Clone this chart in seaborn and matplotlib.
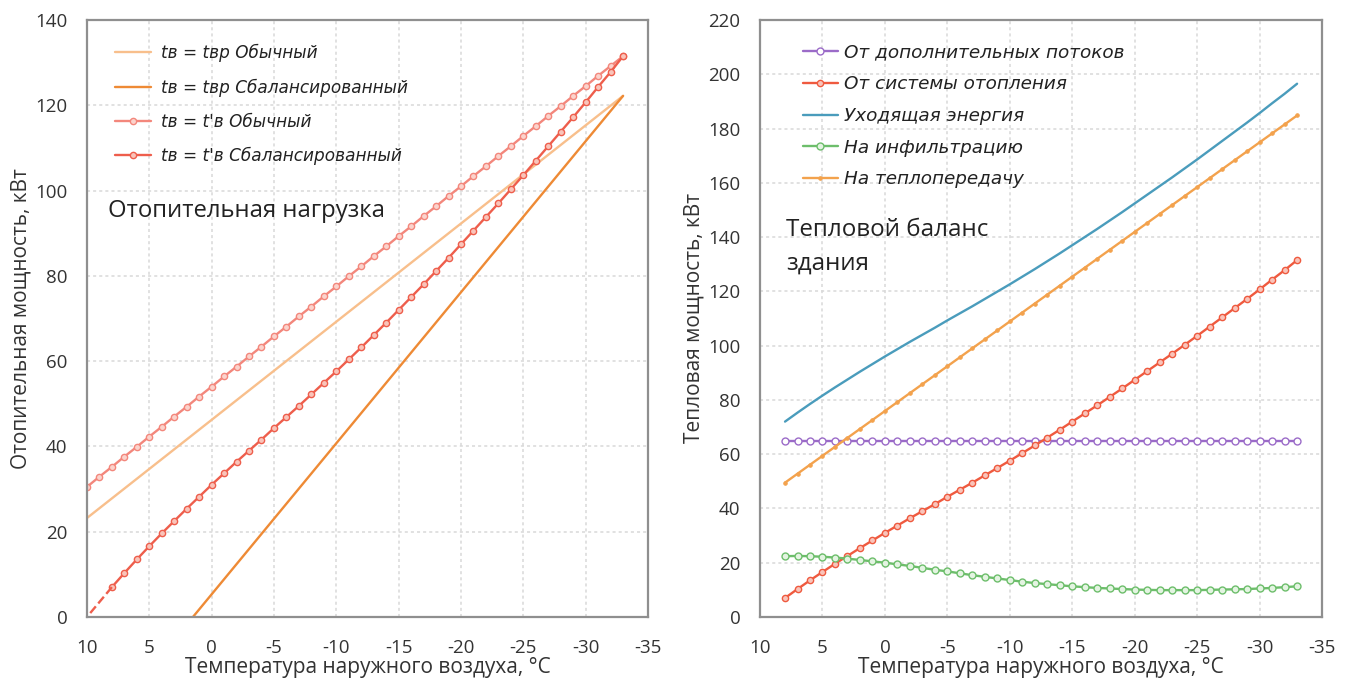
import matplotlib
matplotlib.use("Agg")
import matplotlib.pyplot as plt
import seaborn as sns
from matplotlib.ticker import MultipleLocator

# outdoor temperature, deg C
temps_left = list(range(10, -34, -1))   # 10 .. -33
temps = list(range(8, -34, -1))         # 8 .. -33

# left chart: heating load, kW
calc_usual_t = [10, -33]
calc_usual = [23.2, 122.2]
calc_bal_t = [1.5, -33]
calc_bal = [0.0, 122.2]
real_usual = [30.5, 32.9, 35.2, 37.6, 39.9, 42.3, 44.6, 47.0, 49.3, 51.7, 54.0,
              56.4, 58.7, 61.1, 63.4, 65.8, 68.1, 70.5, 72.8, 75.2, 77.5, 79.9,
              82.2, 84.6, 86.9, 89.3, 91.6, 94.0, 96.3, 98.7, 101.0, 103.4, 105.7,
              108.1, 110.4, 112.8, 115.1, 117.5, 119.8, 122.2, 124.5, 126.9, 129.2, 131.5]
heat_bal = [7.0, 10.3, 13.5, 16.6, 19.6, 22.5, 25.4, 28.2, 31.0, 33.7, 36.4,
            39.0, 41.6, 44.3, 46.9, 49.5, 52.2, 54.9, 57.6, 60.4, 63.2, 66.1,
            69.0, 72.0, 75.0, 78.0, 81.1, 84.2, 87.4, 90.6, 93.8, 97.0, 100.3,
            103.6, 107.0, 110.4, 113.8, 117.2, 120.7, 124.3, 127.8, 131.5]
ext_t = [10, 8]
ext_heat = [0.0, 7.0]

# right chart: building heat balance, kW
extra_gains = [65.0] * 42
leaving = [72.0, 75.3, 78.5, 81.6, 84.6, 87.5, 90.4, 93.2, 96.0, 98.7, 101.4,
           104.0, 106.6, 109.3, 111.9, 114.5, 117.2, 119.9, 122.6, 125.4, 128.2, 131.1,
           134.0, 137.0, 140.0, 143.0, 146.1, 149.2, 152.4, 155.6, 158.8, 162.0, 165.3,
           168.6, 172.0, 175.4, 178.8, 182.2, 185.7, 189.3, 192.8, 196.5]
infiltr = [22.4, 22.5, 22.4, 22.2, 21.9, 21.5, 21.0, 20.5, 20.0, 19.4, 18.8,
           18.1, 17.4, 16.8, 16.1, 15.4, 14.8, 14.2, 13.6, 13.0, 12.5, 12.1,
           11.7, 11.3, 11.0, 10.7, 10.5, 10.3, 10.1, 10.0, 9.9, 9.9, 9.9,
           9.9, 10.0, 10.1, 10.2, 10.3, 10.5, 10.7, 11.0, 11.3]
transm = [49.5, 52.8, 56.1, 59.4, 62.7, 66.0, 69.3, 72.6, 75.9, 79.2, 82.5,
          85.8, 89.1, 92.4, 95.7, 99.0, 102.3, 105.6, 108.9, 112.2, 115.5, 118.8,
          122.1, 125.4, 128.7, 132.0, 135.3, 138.6, 141.9, 145.2, 148.5, 151.8, 155.1,
          158.4, 161.7, 165.0, 168.3, 171.6, 174.9, 178.2, 181.5, 184.8]

labels_left = ["tв = tвр Обычный", "tв = tвр Сбалансированный",
               "tв = t'в Обычный", "tв = t'в Сбалансированный"]
labels_right = ["От дополнительных потоков", "От системы отопления",
                "Уходящая энергия", "На инфильтрацию", "На теплопередачу"]

sns.set_style("white")
plt.rcParams['font.family'] = ['Open Sans', 'DejaVu Sans']
plt.rcParams['axes.unicode_minus'] = False

fig = plt.figure(figsize=(13.5, 6.86), dpi=100)
ax1 = fig.add_axes([0.0644, 0.1006, 0.4156, 0.8703])
ax2 = fig.add_axes([0.563, 0.1006, 0.4163, 0.8703])

lw = 1.7
sns.lineplot(x=calc_usual_t, y=calc_usual, ax=ax1, color='#F8BF8C', lw=lw, label=labels_left[0])
sns.lineplot(x=calc_bal_t, y=calc_bal, ax=ax1, color='#EE8A35', lw=lw, label=labels_left[1])
sns.lineplot(x=temps_left, y=real_usual, ax=ax1, color='#F3877C', lw=lw, marker='o',
             markersize=4.5, markerfacecolor='#FBD3CC', markeredgecolor='#F3877C',
             markeredgewidth=1, label=labels_left[2])
sns.lineplot(x=temps, y=heat_bal, ax=ax1, color='#EE5E4C', lw=lw, marker='o',
             markersize=4.5, markerfacecolor='#F9C4BA', markeredgecolor='#EE5E4C',
             markeredgewidth=1, label=labels_left[3])
sns.lineplot(x=ext_t, y=ext_heat, ax=ax1, color='#EE5E4C', lw=lw, linestyle='--')

sns.lineplot(x=temps, y=extra_gains, ax=ax2, color='#9B6BC8', lw=lw, marker='o',
             markersize=5, markerfacecolor='white', markeredgecolor='#9B6BC8',
             markeredgewidth=1, label=labels_right[0])
sns.lineplot(x=temps, y=heat_bal, ax=ax2, color='#EF5A3F', lw=lw, marker='o',
             markersize=4.5, markerfacecolor='#F9C4BA', markeredgecolor='#EF5A3F',
             markeredgewidth=1, label=labels_right[1])
sns.lineplot(x=temps, y=leaving, ax=ax2, color='#4A9CBC', lw=lw, label=labels_right[2])
sns.lineplot(x=temps, y=infiltr, ax=ax2, color='#6DBE6B', lw=lw, marker='o',
             markersize=5, markerfacecolor='#E4F4E2', markeredgecolor='#6DBE6B',
             markeredgewidth=1, label=labels_right[3])
sns.lineplot(x=temps, y=transm, ax=ax2, color='#F3A24D', lw=lw, marker='o',
             markersize=2.5, markerfacecolor='#F3A24D', markeredgecolor='#F3A24D',
             label=labels_right[4])

for ax, ymax in [(ax1, 140), (ax2, 220)]:
    ax.set_xlim(10, -35)
    ax.set_ylim(0, ymax)
    ax.xaxis.set_major_locator(MultipleLocator(5))
    ax.xaxis.set_minor_locator(MultipleLocator(1))
    ax.yaxis.set_major_locator(MultipleLocator(20))
    ax.yaxis.set_minor_locator(MultipleLocator(5))
    ax.grid(True, which='major', color='#d9d9d9', linestyle=(0, (2, 2)), lw=1.1)
    for s in ax.spines.values():
        s.set_color('#8f8f8f')
        s.set_linewidth(1.6)
    ax.tick_params(which='both', direction='in', colors='#8f8f8f', labelcolor='#333333',
                   labelsize=13.5)
    ax.tick_params(axis='x', pad=16)
    ax.tick_params(axis='y', pad=14)
    ax.tick_params(which='major', length=5, width=1.2)
    ax.tick_params(which='minor', length=3, width=1)
    ax.set_xlabel('Температура наружного воздуха, °C', fontsize=15, color='#333333', labelpad=0)

ax1.set_ylabel('Отопительная мощность, кВт', fontsize=15, color='#333333', labelpad=3)
ax2.set_ylabel('Тепловая мощность, кВт', fontsize=15, color='#333333', labelpad=3)

ax1.legend(loc='upper left', bbox_to_anchor=(0.05, 0.96), frameon=False,
           prop={'family': 'DejaVu Sans', 'style': 'italic', 'size': 12.2},
           labelcolor='#222222', borderpad=0, borderaxespad=0, handlelength=2.1,
           handletextpad=0.6, labelspacing=0.96)
ax2.legend(loc='upper left', bbox_to_anchor=(0.0765, 0.96), frameon=False,
           prop={'family': 'DejaVu Sans', 'style': 'italic', 'size': 13.2},
           labelcolor='#222222', borderpad=0, borderaxespad=0, handlelength=1.9,
           handletextpad=0.35, labelspacing=0.74)

ax1.text(0.037, 0.68, 'Отопительная нагрузка', transform=ax1.transAxes,
         fontsize=17.2, color='#222222', va='center')
ax2.text(0.046, 0.62, 'Тепловой баланс\nздания', transform=ax2.transAxes,
         fontsize=17.4, color='#222222', va='center', linespacing=1.55)

fig.savefig('out.png', dpi=100)
